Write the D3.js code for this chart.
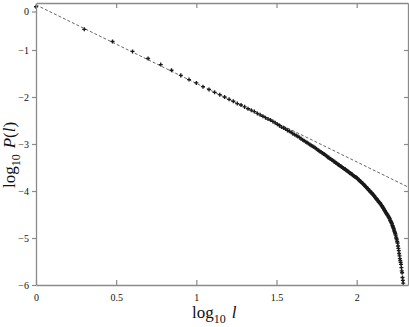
<!DOCTYPE html>
<html>
<head>
<meta charset="utf-8">
<script src="https://cdn.jsdelivr.net/npm/d3@7"></script>
<style>
  body { margin: 0; background: #fff; }
  svg { display: block; }
  .tick text { font-family: "Liberation Serif", serif; font-size: 10px; fill: #111; }
</style>
</head>
<body>
<div id="wrapper"></div>
<script>
// lengths l = 1..195 and measured log10 P(l)
const lengths = d3.range(1, 196)
const logP = [
  -0.08, -0.56, -0.82, -1.03, -1.18, -1.31, -1.43, -1.54, -1.63, -1.70,
  -1.78, -1.84, -1.90, -1.95, -2.00, -2.05, -2.09, -2.14, -2.17, -2.21,
  -2.25, -2.28, -2.31, -2.35, -2.38, -2.41, -2.44, -2.47, -2.49, -2.52,
  -2.55, -2.58, -2.61, -2.64, -2.66, -2.68, -2.71, -2.73, -2.75, -2.78,
  -2.80, -2.82, -2.84, -2.86, -2.89, -2.91, -2.93, -2.95, -2.97, -2.99,
  -3.01, -3.03, -3.05, -3.06, -3.08, -3.10, -3.12, -3.14, -3.16, -3.17,
  -3.19, -3.21, -3.22, -3.24, -3.26, -3.28, -3.29, -3.31, -3.32, -3.34,
  -3.35, -3.37, -3.38, -3.40, -3.41, -3.43, -3.44, -3.45, -3.47, -3.48,
  -3.49, -3.51, -3.52, -3.53, -3.54, -3.56, -3.57, -3.58, -3.59, -3.61,
  -3.62, -3.63, -3.64, -3.65, -3.67, -3.68, -3.69, -3.70, -3.71, -3.72,
  -3.73, -3.75, -3.76, -3.78, -3.79, -3.80, -3.81, -3.83, -3.84, -3.85,
  -3.87, -3.88, -3.90, -3.91, -3.92, -3.94, -3.95, -3.96, -3.98, -3.99,
  -4.01, -4.02, -4.03, -4.04, -4.06, -4.07, -4.08, -4.10, -4.11, -4.13,
  -4.14, -4.16, -4.17, -4.18, -4.20, -4.21, -4.23, -4.24, -4.25, -4.26,
  -4.28, -4.29, -4.31, -4.32, -4.34, -4.36, -4.37, -4.39, -4.41, -4.42,
  -4.44, -4.46, -4.47, -4.49, -4.50, -4.52, -4.53, -4.55, -4.56, -4.58,
  -4.60, -4.63, -4.64, -4.66, -4.68, -4.70, -4.73, -4.75, -4.78, -4.80,
  -4.83, -4.86, -4.88, -4.91, -4.94, -4.98, -5.01, -5.04, -5.08, -5.11,
  -5.17, -5.22, -5.27, -5.33, -5.38, -5.44, -5.48, -5.52, -5.56, -5.63,
  -5.70, -5.74, -5.84, -5.90, -5.96
]
// power-law fit (dashed): log10 P = fitIntercept + fitSlope * log10 l
const fitIntercept = -0.04
const fitSlope = -1.67

const xTicks = [0, 0.5, 1, 1.5, 2]
const xTickLabels = ["0", "0.5", "1", "1.5", "2"]
const yTicks = [0, -1, -2, -3, -4, -5, -6]
const yTickLabels = ["0", "\u22121", "\u22122", "\u22123", "\u22124", "\u22125", "\u22126"]

const dat = lengths.map((l, i) => ({x: Math.log10(l), y: logP[i]}))

let dimensions = {width: 409, height: 327, margin: {top: 3, right: 1, bottom: 42, left: 36}}
const boundWidth = dimensions.width - dimensions.margin.left - dimensions.margin.right
const boundHeight = dimensions.height - dimensions.margin.top - dimensions.margin.bottom

var wrapper = d3.select("#wrapper").append("svg")
  .attr("width", dimensions.width)
  .attr("height", dimensions.height)
var bounds = wrapper.append("g")
  .attr("transform", `translate(${dimensions.margin.left},${dimensions.margin.top})`)

var xScale = d3.scaleLinear().domain([0, 2.32]).range([0, boundWidth])
var yScale = d3.scaleLinear().domain([-6, 0]).range([boundHeight, 0])

const axisColor = "#8a8a8a"

// fit line
bounds.append("line")
  .attr("x1", xScale(0)).attr("y1", yScale(fitIntercept))
  .attr("x2", xScale(2.32)).attr("y2", yScale(fitIntercept + fitSlope * 2.32))
  .attr("stroke", "#666").attr("stroke-width", 1)
  .attr("stroke-dasharray", "3,2")

// data points
bounds.append("g").selectAll("path")
  .data(dat)
  .enter().append("path")
    .attr("d", d3.symbol().type(d3.symbolCross).size(9))
    .attr("transform", d => `translate(${xScale(d.x)},${yScale(d.y)})`)
    .attr("fill", "#1a1a1a")

// axes
var xAxis = bounds.append("g")
  .attr("transform", `translate(0,${boundHeight})`)
  .call(d3.axisBottom(xScale).tickValues(xTicks)
    .tickFormat((d, i) => xTickLabels[i]).tickSizeInner(-5).tickSizeOuter(0).tickPadding(9))
var xTop = bounds.append("g")
  .call(d3.axisTop(xScale).tickValues(xTicks.slice(1)).tickFormat("").tickSizeInner(-5).tickSizeOuter(0))
var yAxis = bounds.append("g")
  .call(d3.axisLeft(yScale).tickValues(yTicks)
    .tickFormat((d, i) => yTickLabels[i]).tickSizeInner(4).tickSizeOuter(0).tickPadding(3))
var yRight = bounds.append("g")
  .attr("transform", `translate(${boundWidth},0)`)
  .call(d3.axisRight(yScale).tickValues(yTicks.slice(1, 6)).tickFormat("").tickSizeInner(-4).tickSizeOuter(0))

// the "0" label sits a little below the top frame
yAxis.selectAll(".tick").filter(d => d === 0)
  .attr("transform", `translate(0,${yScale(0) + 9})`)

bounds.selectAll(".domain").attr("stroke", axisColor).attr("stroke-width", 1.3)
bounds.selectAll(".tick line").attr("stroke", axisColor).attr("stroke-width", 1.2)

// axis titles
const xTitle = wrapper.append("text")
  .attr("x", 192).attr("y", 318)
  .style("font-family", "Liberation Serif, serif").style("font-size", "17px").attr("fill", "#111")
xTitle.append("tspan").text("log")
xTitle.append("tspan").attr("dy", 5).style("font-size", "12px").text("10")
xTitle.append("tspan").attr("dy", -5).attr("dx", 6).style("font-style", "italic").text("l")

const yTitle = wrapper.append("text")
  .attr("transform", "translate(15,188) rotate(-90)")
  .style("font-family", "Liberation Serif, serif").style("font-size", "17px").attr("fill", "#111")
yTitle.append("tspan").text("log")
yTitle.append("tspan").attr("dy", 5).style("font-size", "12px").text("10")
yTitle.append("tspan").attr("dy", -5).attr("dx", 6).style("font-style", "italic").text("P")
yTitle.append("tspan").text("(")
yTitle.append("tspan").style("font-style", "italic").text("l")
yTitle.append("tspan").text(")")
</script>
</body>
</html>
